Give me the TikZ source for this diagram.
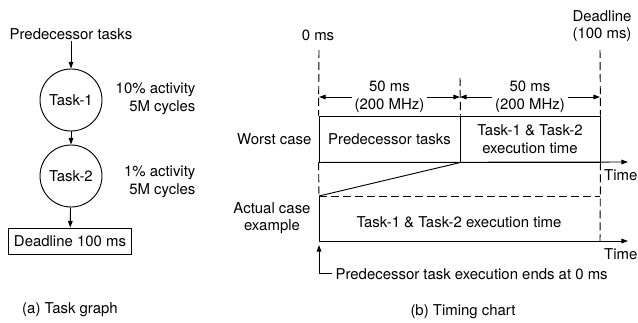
\documentclass[tikz,border=0pt]{standalone}
\usepackage{fontspec}
\setmainfont{TeX Gyre Heros}
\usepackage{tikz}
\usetikzlibrary{arrows.meta}

\tikzset{
  tasknode/.style={draw, circle, line width=0.7pt, minimum size=46.5pt, inner sep=0pt},
  boxnode/.style={draw, rectangle, line width=0.7pt, inner sep=0pt},
  lbl/.style={align=center, inner sep=1pt},
  conn/.style={line width=0.7pt, -{Triangle[length=5pt,width=3.5pt]}},
  dimline/.style={line width=0.7pt, {Triangle[length=5pt,width=3.5pt]}-{Triangle[length=5pt,width=3.5pt]}},
  guide/.style={line width=0.7pt, dash pattern=on 6pt off 3pt},
  plain/.style={line width=0.7pt}
}

\begin{document}
\begin{tikzpicture}[x=0.75pt,y=0.75pt,yscale=-1,xscale=1,font=\fontsize{11.2}{13.2}\selectfont]
\useasboundingbox (0,0) rectangle (638,322);

% Text Node
\node[lbl] (pred) at (71,34) {Predecessor tasks};
% Text Node
\node[tasknode] (task1) at (71,100) {Task-1};
% Text Node
\node[tasknode] (task2) at (71,176) {Task-2};
% Text Node
\node[boxnode, minimum width=92pt, minimum height=19.5pt] (dl) at (70,241) {Deadline 100 ms};
% Text Node
\node[lbl, align=right, anchor=east] (act1) at (197,99) {10\% activity\\5M cycles};
% Text Node
\node[lbl, align=right, anchor=east] (act2) at (197,182) {1\% activity\\5M cycles};
% Text Node
\node[lbl] (capa) at (70,310) {(a) Task graph};

%Straight Lines
\draw[conn] (pred) -- (task1);
\draw[conn] (task1) -- (task2);
\draw[conn] (task2) -- (dl);

% Text Node
\node[lbl] (zero) at (318,35) {0 ms};
% Text Node
\node[lbl] (dead) at (602,26) {Deadline\\(100 ms)};
% Text Node
\node[boxnode, minimum width=105.75pt, minimum height=34.5pt] (wc1) at (389.5,139) {Predecessor tasks};
% Text Node
\node[boxnode, minimum width=105pt, minimum height=34.5pt, align=center] (wc2) at (530,139) {Task-1 \& Task-2\\execution time};
% Text Node
\node[lbl, anchor=east] (worst) at (313,139) {Worst case};
% Text Node
\node[lbl] (actual) at (272,218) {Actual case\\example};
% Text Node
\node[lbl] (exec) at (459,222) {Task-1 \& Task-2 execution time};
% Text Node
\node[lbl, anchor=east] (time1) at (639,175) {Time};
% Text Node
\node[lbl, anchor=east] (time2) at (639,254) {Time};
% Text Node
\node[lbl, anchor=west] (ends) at (334,274) {Predecessor task execution ends at 0 ms};
% Text Node
\node[lbl] (capb) at (463,312) {(b) Timing chart};

\coordinate (ltop) at (319,50);
\coordinate (rtop) at (600,50);
\coordinate (mtop) at (460,78);
\coordinate (dimL) at (319,97);
\coordinate (dimM) at (460,97);
\coordinate (dimR) at (600,97);
\coordinate (slant) at (319,196);
\coordinate (dashR) at (600,196);
\coordinate (axis2) at (319,241);
\coordinate (axend1) at (628,162);
\coordinate (axend2) at (628,241);
\coordinate (rbot) at (600,241);
\coordinate (tail) at (332,273);
\coordinate (tip) at (319,245);

%Dashed Lines
\draw[guide] (ltop) -- (wc1.north west);
\draw[guide] (rtop) -- (wc2.north east);
\draw[guide] (mtop) -- (wc1.north east);
\draw[guide] (wc1.south west) -- (slant);
\draw[guide] (slant) -- (dashR);
\draw[guide] (wc2.south east) -- (rbot);

%Dimension Lines
\draw[dimline] (dimL) -- (dimM) node[midway, fill=white, align=center, inner sep=2pt] {50 ms\\(200 MHz)};
\draw[dimline] (dimM) -- (dimR) node[midway, fill=white, align=center, inner sep=2pt] {50 ms\\(200 MHz)};

%Straight Lines
\draw[conn] (wc1.south west) -- (axend1);
\draw[plain] (slant) -- (wc1.south east);
\draw[plain] (slant) -- (axis2);
\draw[conn] (axis2) -- (axend2);
\draw[conn] (tail) -| (tip);

\end{tikzpicture}
\end{document}
